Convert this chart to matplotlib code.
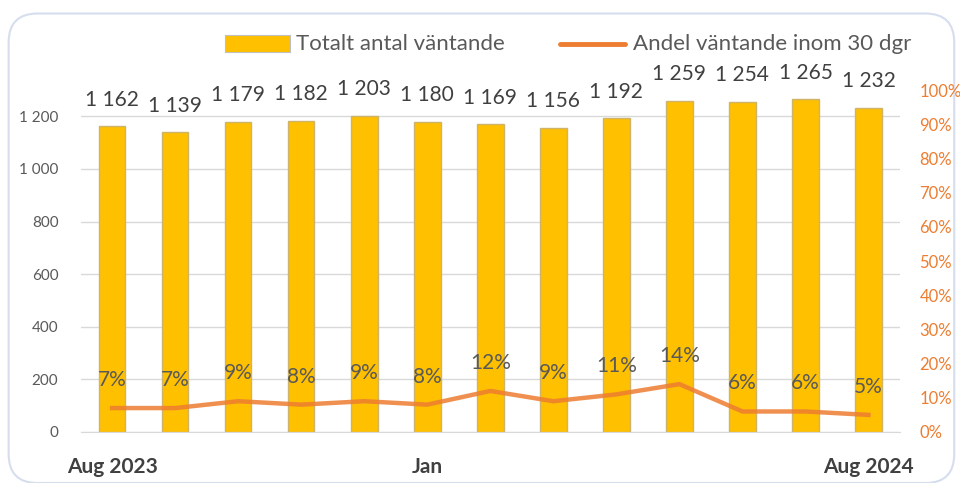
import matplotlib.pyplot as plt
from matplotlib.patches import FancyBboxPatch, Rectangle
from matplotlib.lines import Line2D

plt.rcParams['font.family'] = ['Lato', 'DejaVu Sans']

# data
months = ['Aug 2023', '', '', '', '', 'Jan', '', '', '', '', '', '', 'Aug 2024']
totals = [1162, 1139, 1179, 1182, 1203, 1180, 1169, 1156, 1192, 1259, 1254, 1265, 1232]
share = [7, 7, 9, 8, 9, 8, 12, 9, 11, 14, 6, 6, 5]

bar_color = '#FFC000'
line_color = '#ED7D31'
text_color = '#404040'

fig = plt.figure(figsize=(9.6, 4.83), dpi=100)

# rounded frame around the chart
frame = FancyBboxPatch((0.009, 0.0), 0.985, 0.972, boxstyle='round,pad=0,rounding_size=0.03',
                       transform=fig.transFigure, facecolor='none', edgecolor='#D6DEEE',
                       linewidth=1.5, mutation_aspect=2.0, zorder=-1)
fig.patches.append(frame)

ax = fig.add_axes([0.084, 0.1056, 0.8535, 0.708])
x = list(range(len(totals)))
ax.bar(x, totals, width=0.42, color=bar_color, edgecolor='#CDB46A', linewidth=1.0, zorder=2)
for xi, v in zip(x, totals):
    ax.annotate(f'{v:,}'.replace(',', ' '), (xi, v), xytext=(0, 12), textcoords='offset points',
                ha='center', va='bottom', fontsize=15, color=text_color)

ax.set_xlim(-0.5, len(totals) - 0.5)
ax.set_ylim(0, 1300)
ax.set_yticks(range(0, 1201, 200))
ax.set_yticklabels([f'{t:,}'.replace(',', ' ') for t in range(0, 1201, 200)])
ax.tick_params(axis='y', length=0, labelsize=11, labelcolor='#595959', pad=16)
ax.set_xticks(x)
ax.set_xticklabels(months, fontweight='bold', fontsize=15, color=text_color)
ax.tick_params(axis='x', length=0, pad=18)
ax.grid(axis='y', color='#D9D9D9', linewidth=1, zorder=0)
for s in ['top', 'right', 'left']:
    ax.spines[s].set_visible(False)
ax.spines['bottom'].set_color('#D9D9D9')
ax.set_axisbelow(True)

ax2 = ax.twinx()
ax2.plot(x, [s / 100 for s in share], color=line_color, linewidth=3.2, alpha=0.85, zorder=3)
for xi, s in zip(x, share):
    ax2.annotate(f'{s}%', (xi, s / 100), xytext=(0, 13), textcoords='offset points',
                 ha='center', va='bottom', fontsize=15, color='#595959')
ax2.set_ylim(0, 1.0)
ax2.set_yticks([i / 10 for i in range(11)])
ax2.set_yticklabels([f'{i * 10}%' for i in range(11)])
ax2.tick_params(axis='y', length=0, labelsize=12, labelcolor=line_color, pad=14)
for s in ax2.spines.values():
    s.set_visible(False)

# legend
fig.patches.append(Rectangle((225 / 960, 1 - 52 / 483), 65 / 960, 17 / 483,
                             transform=fig.transFigure, facecolor=bar_color, edgecolor='#BFBFBF', linewidth=0.8))
fig.text(296 / 960, 1 - 44 / 483, 'Totalt antal väntande', fontsize=16, color='#595959', va='center')
fig.lines.append(Line2D([560 / 960, 625 / 960], [1 - 44 / 483, 1 - 44 / 483], transform=fig.transFigure,
                        color=line_color, linewidth=3.5, solid_capstyle='round'))
fig.text(633 / 960, 1 - 44 / 483, 'Andel väntande inom 30 dgr', fontsize=16, color='#595959', va='center')

fig.savefig('out.png', dpi=100)
